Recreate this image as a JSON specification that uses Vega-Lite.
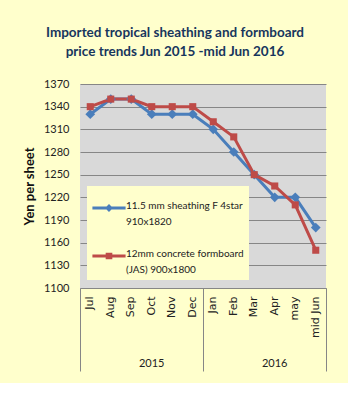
{
  "$schema": "https://vega.github.io/schema/vega-lite/v6.json",
  "width": 246,
  "height": 204,
  "padding": {"left": 23, "top": 25, "right": 21, "bottom": 11},
  "background": "#ffffcc",
  "title": {
    "text": ["Imported tropical sheathing and formboard", "price trends Jun 2015 -mid Jun 2016"],
    "font": "Lato",
    "fontSize": 13.5,
    "fontWeight": "bold",
    "color": "#17365d",
    "anchor": "middle",
    "frame": "bounds",
    "lineHeight": 19,
    "offset": 20
  },
  "config": {
    "view": {"fill": "#d9d9d9", "stroke": null},
    "axis": {"labelColor": "#222222", "titleColor": "#111111"}
  },
  "data": {
    "values": [
      {"m": "2015|Jul", "series": "11.5 mm sheathing F 4star|910x1820", "price": 1330},
      {"m": "2015|Aug", "series": "11.5 mm sheathing F 4star|910x1820", "price": 1350},
      {"m": "2015|Sep", "series": "11.5 mm sheathing F 4star|910x1820", "price": 1350},
      {"m": "2015|Oct", "series": "11.5 mm sheathing F 4star|910x1820", "price": 1330},
      {"m": "2015|Nov", "series": "11.5 mm sheathing F 4star|910x1820", "price": 1330},
      {"m": "2015|Dec", "series": "11.5 mm sheathing F 4star|910x1820", "price": 1330},
      {"m": "2016|Jan", "series": "11.5 mm sheathing F 4star|910x1820", "price": 1310},
      {"m": "2016|Feb", "series": "11.5 mm sheathing F 4star|910x1820", "price": 1280},
      {"m": "2016|Mar", "series": "11.5 mm sheathing F 4star|910x1820", "price": 1250},
      {"m": "2016|Apr", "series": "11.5 mm sheathing F 4star|910x1820", "price": 1220},
      {"m": "2016|may", "series": "11.5 mm sheathing F 4star|910x1820", "price": 1220},
      {"m": "2016|mid Jun", "series": "11.5 mm sheathing F 4star|910x1820", "price": 1180},
      {"m": "2015|Jul", "series": "12mm concrete formboard|(JAS) 900x1800", "price": 1340},
      {"m": "2015|Aug", "series": "12mm concrete formboard|(JAS) 900x1800", "price": 1350},
      {"m": "2015|Sep", "series": "12mm concrete formboard|(JAS) 900x1800", "price": 1350},
      {"m": "2015|Oct", "series": "12mm concrete formboard|(JAS) 900x1800", "price": 1340},
      {"m": "2015|Nov", "series": "12mm concrete formboard|(JAS) 900x1800", "price": 1340},
      {"m": "2015|Dec", "series": "12mm concrete formboard|(JAS) 900x1800", "price": 1340},
      {"m": "2016|Jan", "series": "12mm concrete formboard|(JAS) 900x1800", "price": 1320},
      {"m": "2016|Feb", "series": "12mm concrete formboard|(JAS) 900x1800", "price": 1300},
      {"m": "2016|Mar", "series": "12mm concrete formboard|(JAS) 900x1800", "price": 1250},
      {"m": "2016|Apr", "series": "12mm concrete formboard|(JAS) 900x1800", "price": 1235},
      {"m": "2016|may", "series": "12mm concrete formboard|(JAS) 900x1800", "price": 1210},
      {"m": "2016|mid Jun", "series": "12mm concrete formboard|(JAS) 900x1800", "price": 1150}
    ]
  },
  "encoding": {
    "y": {
      "field": "price",
      "type": "quantitative",
      "scale": {"domain": [1100, 1370], "nice": false, "zero": false},
      "axis": {
        "title": "Yen per sheet",
        "titleFont": "Lato",
        "titleFontSize": 13,
        "titleFontWeight": "bold",
        "titlePadding": 7,
        "values": [1100, 1130, 1160, 1190, 1220, 1250, 1280, 1310, 1340, 1370],
        "format": "d",
        "labelFont": "Lato",
        "labelFontSize": 11,
        "labelPadding": 11,
        "ticks": false,
        "domain": false,
        "gridColor": "#868686",
        "gridWidth": 1
      }
    }
  },
  "layer": [
    {
      "mark": {"type": "line", "strokeWidth": 3},
      "encoding": {
        "x": {
          "field": "m",
          "type": "ordinal",
          "scale": {
            "type": "band",
            "paddingInner": 0,
            "paddingOuter": 0,
            "domain": ["2015|Jul", "2015|Aug", "2015|Sep", "2015|Oct", "2015|Nov", "2015|Dec", "2016|Jan", "2016|Feb", "2016|Mar", "2016|Apr", "2016|may", "2016|mid Jun"]
          },
          "axis": {
            "orient": "bottom",
            "title": null,
            "labelExpr": "split(datum.value, '|')[1]",
            "labelAngle": -90,
            "labelAlign": "right",
            "labelBaseline": "middle",
            "labelFont": "DejaVu Sans",
            "labelFontSize": 11,
            "labelPadding": 8,
            "ticks": false,
            "grid": false,
            "domainColor": "#868686",
            "domainWidth": 1
          }
        },
        "color": {
          "field": "series",
          "type": "nominal",
          "scale": {"range": ["#4a7ebb", "#be4b48"]},
          "legend": {
            "orient": "none",
            "legendX": 7,
            "legendY": 102,
            "title": null,
            "fillColor": "#ffffcc",
            "padding": 5,
            "rowPadding": 12,
            "symbolSize": 1100,
            "labelExpr": "split(datum.label, '|')",
            "labelFont": "Lato",
            "labelFontSize": 10,
            "labelColor": "#222222",
            "labelLimit": 300,
            "labelOffset": 0,
            "labelBaseline": "top",
            "encode": {
              "symbols": {
                "update": {
                  "shape": {"signal": "indexof(datum.value, '11.5') == 0 ? 'M-1,-0.09L1,-0.09L1,0.09L-1,0.09Z M0,-0.24L0.24,0L0,0.24L-0.24,0Z' : 'M-1,-0.09L1,-0.09L1,0.09L-1,0.09Z M-0.2,-0.2L0.2,-0.2L0.2,0.2L-0.2,0.2Z'"},
                  "fill": {"scale": "color", "field": "value"},
                  "fillOpacity": {"value": 1},
                  "strokeWidth": {"value": 0}
                }
              },
              "labels": {
                "update": {"dy": {"value": -7}, "lineHeight": {"value": 16}}
              }
            }
          }
        }
      }
    },
    {
      "mark": {"type": "point", "filled": true, "opacity": 1},
      "encoding": {
        "x": {
          "field": "m",
          "type": "ordinal",
          "axis": {
            "orient": "bottom",
            "title": null,
            "values": ["2015|Jul", "2016|Jan"],
            "bandPosition": 0,
            "labelExpr": "split(datum.value, '|')[0]",
            "labelAngle": 0,
            "labelAlign": "center",
            "labelBaseline": "top",
            "labelOffset": 61.5,
            "labelPadding": -14,
            "labelFont": "Lato",
            "labelFontSize": 11,
            "tickSize": 83,
            "tickColor": "#868686",
            "domain": false,
            "grid": false
          }
        },
        "color": {"field": "series", "type": "nominal", "legend": null},
        "shape": {
          "field": "series",
          "type": "nominal",
          "scale": {"range": ["diamond", "square"]},
          "legend": null
        },
        "size": {
          "field": "series",
          "type": "nominal",
          "scale": {"range": [95, 50]},
          "legend": null
        }
      }
    },
    {
      "mark": {"type": "point", "opacity": 0},
      "encoding": {
        "x": {
          "field": "m",
          "type": "ordinal",
          "axis": {
            "orient": "bottom",
            "title": null,
            "values": ["2016|mid Jun"],
            "bandPosition": 1,
            "labels": false,
            "tickSize": 83,
            "tickColor": "#868686",
            "domain": false,
            "grid": false
          }
        }
      }
    }
  ],
  "resolve": {"axis": {"x": "independent"}}
}
